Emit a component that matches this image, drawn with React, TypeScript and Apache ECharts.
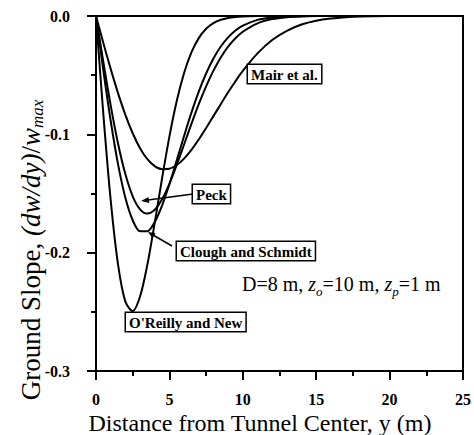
import React, { useEffect, useRef } from "react";
import * as echarts from "echarts";

// Distance from tunnel center, y (m)
const distance = [0, 0.5, 1, 1.5, 2, 2.5, 3, 3.5, 4, 4.5, 5, 5.5, 6, 6.5, 7, 7.5, 8, 8.5, 9, 9.5, 10, 11, 12, 13, 14, 15, 16, 17, 18, 20, 25];

// Ground slope (dw/dy)/wmax
const oreillyNew = [0, -0.0829, -0.1556, -0.2099, -0.2414, -0.2494, -0.2371, -0.2101, -0.1748, -0.1372, -0.1019, -0.0719, -0.0482, -0.0308, -0.0187, -0.0108, -0.006, -0.0032, -0.0016, -0.0008, -0.0004, -0.0001, 0, 0, 0, 0, 0, 0, 0, 0, 0];
const cloughSchmidt = [0, -0.0459, -0.0885, -0.1252, -0.1536, -0.1726, -0.1819, -0.1819, -0.1741, -0.1602, -0.1422, -0.122, -0.1014, -0.0817, -0.0639, -0.0486, -0.0359, -0.0258, -0.0181, -0.0123, -0.0082, -0.0033, -0.0012, -0.0004, -0.0001, 0, 0, 0, 0, 0, 0];
const peck = [0, -0.0389, -0.0755, -0.1077, -0.1336, -0.1524, -0.1634, -0.167, -0.1638, -0.1549, -0.1418, -0.1259, -0.1086, -0.0911, -0.0745, -0.0594, -0.0462, -0.035, -0.0259, -0.0188, -0.0133, -0.0062, -0.0026, -0.001, -0.0004, -0.0001, 0, 0, 0, 0, 0];
const mairEtAl = [0, -0.0228, -0.0447, -0.0652, -0.0835, -0.0991, -0.1117, -0.121, -0.1269, -0.1295, -0.1291, -0.1259, -0.1205, -0.1131, -0.1044, -0.0947, -0.0846, -0.0745, -0.0645, -0.0551, -0.0464, -0.0316, -0.0203, -0.0125, -0.0072, -0.004, -0.0021, -0.001, -0.0004, -0.0001, 0];

const seriesNames = ["O'Reilly and New", "Clough and Schmidt", "Peck", "Mair et al."];
const seriesValues = [oreillyNew, cloughSchmidt, peck, mairEtAl];

const serif = "Liberation Serif";

export default function App() {
  const ref = useRef<HTMLDivElement>(null);
  useEffect(() => {
    const chart = echarts.init(ref.current!, null, { renderer: "svg" });
    const boxStyle = (text: string) => ({
      text,
      font: 'bold 15px "Liberation Serif"',
      fontFamily: serif,
      fontWeight: "bold",
      fontSize: 15,
      fill: "#000",
      backgroundColor: "#fff",
      borderColor: "#000",
      borderWidth: 1.5,
      padding: [2, 3, 1, 3],
      align: "left",
      verticalAlign: "top",
    });
    const tickLabel = {
      color: "#000",
      fontFamily: serif,
      fontWeight: "bold",
      fontSize: 16,
    };
    chart.setOption({
      animation: false,
      textStyle: { fontFamily: serif },
      grid: {
        left: 96,
        right: 11,
        top: 16,
        bottom: 64,
        show: true,
        borderColor: "#000",
        borderWidth: 2,
        backgroundColor: "transparent",
      },
      xAxis: {
        type: "value",
        min: 0,
        max: 25,
        interval: 5,
        axisLine: { show: true, onZero: false, lineStyle: { color: "#000", width: 2 } },
        axisTick: { show: true, length: 9, lineStyle: { color: "#000", width: 2 } },
        minorTick: { show: true, splitNumber: 2, length: 5, lineStyle: { color: "#000", width: 2 } },
        splitLine: { show: false },
        axisLabel: { ...tickLabel, margin: 20 },
      },
      yAxis: {
        type: "value",
        min: -0.3,
        max: 0,
        interval: 0.1,
        axisLine: { show: true, onZero: false, lineStyle: { color: "#000", width: 2 } },
        axisTick: { show: true, length: 9, lineStyle: { color: "#000", width: 2 } },
        minorTick: { show: true, splitNumber: 2, length: 5, lineStyle: { color: "#000", width: 2 } },
        splitLine: { show: false },
        axisLabel: {
          ...tickLabel,
          margin: 26,
          formatter: (v: number) => v.toFixed(1),
        },
      },
      series: seriesNames.map((name, k) => ({
        type: "line",
        name,
        data: distance.map((x, i) => [x, seriesValues[k][i]]),
        smooth: 0.3,
        showSymbol: false,
        lineStyle: { color: "#000", width: 2 },
        z: 3,
      })),
      graphic: [
        // leader lines
        { type: "line", shape: { x1: 193, y1: 194, x2: 148, y2: 200 }, style: { stroke: "#000", lineWidth: 1.5 }, z: 10 },
        { type: "polygon", shape: { points: [[141, 201], [149.3, 203], [148.5, 197]] }, style: { fill: "#000" }, z: 10 },
        { type: "line", shape: { x1: 172, y1: 246, x2: 153, y2: 235 }, style: { stroke: "#000", lineWidth: 1.5 }, z: 10 },
        { type: "polygon", shape: { points: [[148, 232], [155.5, 233], [152.5, 238.2]] }, style: { fill: "#000" }, z: 10 },
        // boxed labels
        { type: "text", x: 248, y: 65, style: boxStyle("Mair et al."), z: 11 },
        { type: "text", x: 193, y: 185, style: boxStyle("Peck"), z: 11 },
        { type: "text", x: 177, y: 242, style: boxStyle("Clough and Schmidt"), z: 11 },
        { type: "text", x: 126, y: 313, style: boxStyle("O'Reilly and New"), z: 11 },
        // parameters
        {
          type: "text",
          x: 242,
          y: 284,
          style: {
            text: "D=8 m, {i|z}{s|o}=10 m, {i|z}{s|p}=1 m",
            fontFamily: serif,
            fontSize: 20,
            fill: "#000",
            align: "left",
            verticalAlign: "middle",
            rich: {
              i: { fontFamily: serif, fontSize: 20, fontStyle: "italic", fill: "#000", lineHeight: 28 },
              s: { fontFamily: serif, fontSize: 13, fontStyle: "italic", fill: "#000", lineHeight: 13, verticalAlign: "bottom" },
            },
          },
          z: 11,
        },
        // axis titles
        {
          type: "text",
          x: 260,
          y: 423,
          style: {
            text: "Distance from Tunnel Center, y (m)",
            fontFamily: serif,
            fontSize: 24,
            fill: "#000",
            align: "center",
            verticalAlign: "middle",
          },
        },
        {
          type: "text",
          x: 31,
          y: 250,
          rotation: Math.PI / 2,
          style: {
            text: "Ground Slope, {i|(dw/dy)}/{i|w}{s|max}",
            fontFamily: serif,
            fontSize: 27,
            fill: "#000",
            align: "center",
            verticalAlign: "middle",
            rich: {
              i: { fontFamily: serif, fontSize: 27, fontStyle: "italic", fill: "#000", lineHeight: 30 },
              s: { fontFamily: serif, fontSize: 17, fontStyle: "italic", fill: "#000", lineHeight: 17, verticalAlign: "bottom" },
            },
          },
        },
      ],
    });
    return () => chart.dispose();
  }, []);
  return <div ref={ref} style={{ position: "absolute", left: 0, top: 0, width: 474, height: 435 }} />;
}
